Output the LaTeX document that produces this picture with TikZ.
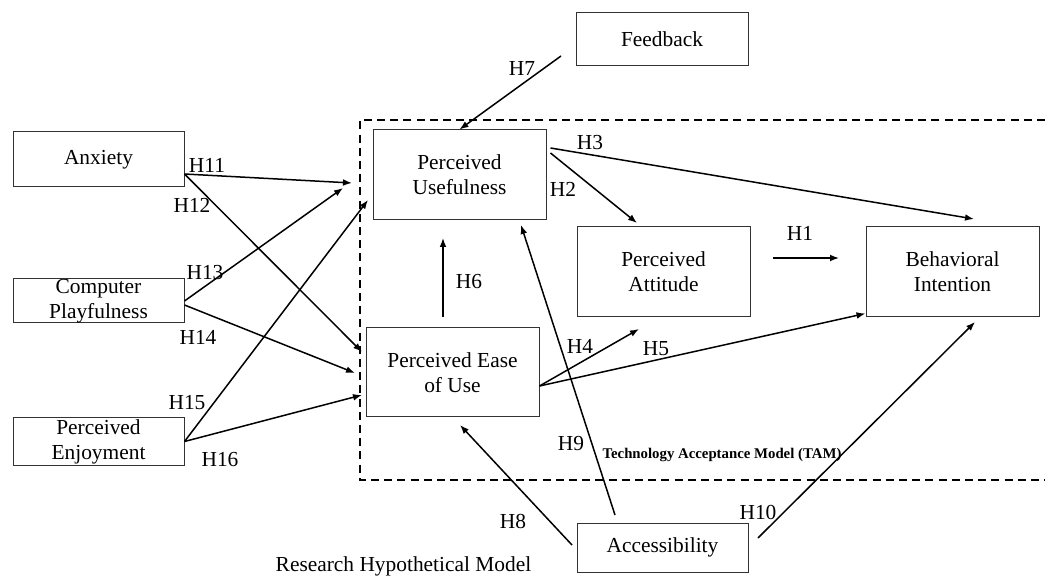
\documentclass[tikz,border=0pt]{standalone}
\usepackage{fontspec}
\setmainfont{Liberation Serif}
\usetikzlibrary{arrows.meta}
\begin{document}
\begin{tikzpicture}[x=0.5pt,y=-0.5pt,font=\fontsize{10.7}{12.5}\selectfont,
  box/.style={draw=black!80,line width=0.5pt,align=center,inner xsep=0pt,inner ysep=0pt},
  arr/.style={-{Latex[length=4.5pt,width=3.4pt]},line width=0.75pt},
  hyp/.style={inner sep=0pt}]
  \useasboundingbox (0,0) rectangle (1045,577);
  \draw[line width=1.15pt,dash pattern=on 4pt off 2.6pt] (1045,120) -- (360,120) -- (360,480) -- (1045,480);
  \foreach \nm/\cx/\cy/\bw/\bh/\txt in {%
    anx/98.5/159.5/85.5/27.5/Anxiety,
    cp/98.5/301/85.5/22/{Computer\\Playfulness},
    pe/98.5/441.5/85.5/23.5/{Perceived\\Enjoyment},
    fb/662/39.5/86/26.5/Feedback,
    pu/459.5/175/86.5/45/{Perceived\\Usefulness},
    pa/663.5/272/86.5/45/{Perceived\\Attitude},
    bi/952.5/272/86.5/45/{Behavioral\\Intention},
    peou/452.5/372.5/86.5/44.5/{Perceived Ease\\of Use},
    acc/662.5/547.5/85.5/24.5/Accessibility}
  {
    \node[box,minimum width=\bw pt,minimum height=\bh pt] (\nm) at (\cx,\cy) {\txt};
  }
  \foreach \nm/\lx/\ly in {%
    1/800/233, 2/563/189, 3/590/143, 4/580/346, 5/656/349, 6/469/282,
    7/522/68, 8/513/521, 9/571/444, 10/758/512,
    11/207/165, 12/192/205, 13/205/273, 14/198/337, 15/187/403, 16/220/460}
  {
    \node[hyp] (h\nm) at (\lx,\ly) {H\nm};
  }
  \node[hyp,font=\fontsize{7.4}{9}\selectfont\bfseries] (tam) at (722,455) {Technology Acceptance Model (TAM)};
  \node[hyp] (title) at (403.5,566) {Research Hypothetical Model};
  \coordinate (fbout) at (561,56);
  \coordinate (puin1) at (352,183);
  \coordinate (puin2) at (343,188);
  \coordinate (puin3) at (368,200);
  \coordinate (eoin1) at (362,352);
  \coordinate (eoin2) at (355,373);
  \coordinate (eoin3) at (362,395);
  \coordinate (pain1) at (637,223);
  \coordinate (pain2) at (639,329);
  \coordinate (biin1) at (974,219);
  \coordinate (biin2) at (975,322);
  \coordinate (h1s) at (773,258);
  \coordinate (h1e) at (839,258);
  \coordinate (h6s) at (443,317);
  \coordinate (h6e) at (443,238);
  \coordinate (eoin4) at (460,425);
  \coordinate (puin4) at (521,225);
  \coordinate (acout1) at (572,545);
  \coordinate (acout2) at (615,515);
  \coordinate (acout3) at (758,538);
  \draw[arr] (fbout) -- (pu.north);
  \draw[arr] ([yshift=-7.25pt]anx.east) -- (puin1);
  \draw[arr] ([yshift=-7.25pt]anx.east) -- (eoin1);
  \draw[arr] (cp.east) -- (puin2);
  \draw[arr] ([yshift=-2pt]cp.east) -- (eoin2);
  \draw[arr] (pe.east) -- (puin3);
  \draw[arr] (pe.east) -- (eoin3);
  \draw[arr] ([xshift=2pt,yshift=13.5pt]pu.east) -- (biin1);
  \draw[arr] ([xshift=2pt,yshift=11pt]pu.east) -- (pain1);
  \draw[arr] (h1s) -- (h1e);
  \draw[arr] (h6s) -- (h6e);
  \draw[arr] ([yshift=-6.75pt]peou.east) -- (pain2);
  \draw[arr] ([yshift=-6.75pt]peou.east) -- ([yshift=2pt]bi.south west);
  \draw[arr] (acout1) -- (eoin4);
  \draw[arr] (acout2) -- (puin4);
  \draw[arr] (acout3) -- (biin2);
\end{tikzpicture}
\end{document}
